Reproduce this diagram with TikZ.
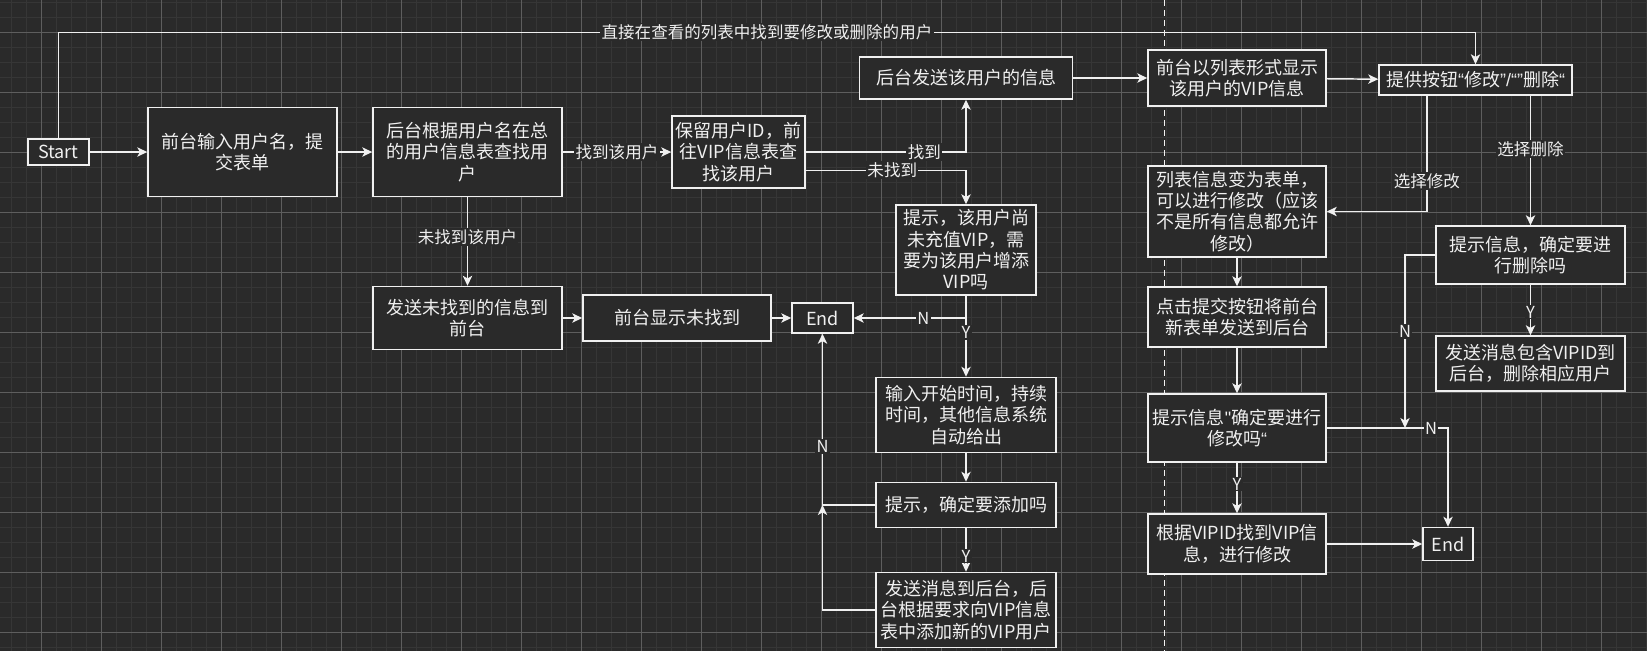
\documentclass[tikz,border=0pt]{standalone}
\usepackage{fontspec}
\setmainfont{Noto Sans CJK SC}
\newfontfamily\latinq{Liberation Sans}
\newcommand\qmark[1]{{\latinq #1}}
\usetikzlibrary{arrows.meta,calc}
\definecolor{bg}{HTML}{2A2A2A}
\definecolor{minorgrid}{HTML}{363636}
\definecolor{majorgrid}{HTML}{5E5E5E}
\definecolor{ink}{HTML}{F0F0F0}
\begin{document}
\begin{tikzpicture}[x=.75pt,y=-.75pt,
  box/.style={draw=ink,line width=1.1pt,fill=bg,text=ink,align=center,inner sep=0pt,
    font=\fontsize{13.5}{16}\selectfont},
  sz/.style 2 args={minimum width=#1*.75pt,minimum height=#2*.75pt},
  lbl/.style={fill=bg,text=ink,inner sep=1pt,font=\fontsize{12.4}{14}\selectfont},
  flow/.style={draw=ink,line width=1.1pt,-{Stealth[length=7.5pt,width=7pt,inset=2pt]}}]
\useasboundingbox (0,0) rectangle (1647,651);
\fill[bg] (0,0) rectangle (1647,651);
\foreach \x in {11,26,...,1646} \draw[minorgrid,line width=.75pt] (\x,0) -- (\x,651);
\foreach \y in {2,17,...,650} \draw[minorgrid,line width=.75pt] (0,\y) -- (1647,\y);
\foreach \x in {41,101,...,1646} \draw[majorgrid,line width=.75pt] (\x,0) -- (\x,651);
\foreach \y in {32,92,...,650} \draw[majorgrid,line width=.75pt] (0,\y) -- (1647,\y);
\draw[ink!80,line width=.75pt,dash pattern=on 4.5pt off 3pt] (1164,0) -- (1164,651);

\node[box,sz={61}{26}] (start) at (58.5,152) {Start};
\node[box,sz={189}{89}] (input) at (242.5,152) {前台输入用户名，提\\交表单};
\node[box,sz={189}{89}] (lookup) at (467.5,152) {后台根据用户名在总\\的用户信息表查找用\\户};
\node[box,sz={133}{72}] (keep) at (738.5,152) {保留用户ID，前\\往VIP信息表查\\找该用户};
\node[box,sz={213}{42}] (send) at (966,78) {后台发送该用户的信息};
\node[box,sz={140}{90}] (ask) at (966,250) {提示，该用户尚\\未充值VIP，需\\要为该用户增添\\VIP吗};
\node[box,sz={61}{30}] (end1) at (822.5,318) {End};
\node[box,sz={189}{63}] (sendnf) at (467.5,318) {发送未找到的信息到\\前台};
\node[box,sz={188}{46}] (shownf) at (677,318) {前台显示未找到};
\node[box,sz={180}{75}] (inputtime) at (966,415) {输入开始时间，持续\\时间，其他信息系统\\自动给出};
\node[box,sz={180}{45}] (confirm) at (966,505) {提示，确定要添加吗};
\node[box,sz={180}{75}] (addvip) at (966,610) {发送消息到后台，后\\台根据要求向VIP信息\\表中添加新的VIP用户};
\node[box,sz={178}{56}] (listshow) at (1237,78) {前台以列表形式显示\\该用户的VIP信息};
\node[box,sz={193}{30}] (buttons) at (1475.5,80) {提供按钮\qmark{“}修改\qmark{”/“”}删除\qmark{“}};
\node[box,sz={178}{91}] (editform) at (1237,211.5) {列表信息变为表单，\\可以进行修改（应该\\不是所有信息都允许\\修改）};
\node[box,sz={189}{58}] (askdel) at (1530.5,255) {提示信息，确定要进\\行删除吗};
\node[box,sz={189}{55}] (sendvipid) at (1530.5,363.5) {发送消息包含VIPID到\\后台，删除相应用户};
\node[box,sz={178}{60}] (submit) at (1237,317) {点击提交按钮将前台\\新表单发送到后台};
\node[box,sz={178}{68}] (askedit) at (1237,428) {提示信息\qmark{"}确定要进行\\修改吗\qmark{“}};
\node[box,sz={178}{60}] (findedit) at (1237,544) {根据VIPID找到VIP信\\息，进行修改};
\node[box,sz={50}{33}] (end2) at (1448,544) {End};
\coordinate (njoin) at (end1.south |- confirm.west);
\coordinate (njoin2) at (1405,428);

\draw[flow] (start) -- (input);
\draw[flow] (input) -- (lookup);
\draw[flow] (lookup) -- node[lbl]{找到该用户} (keep);
\draw[flow] (lookup) -- node[lbl,pos=.45]{未找到该用户} (sendnf);
\draw[flow] (sendnf) -- (shownf);
\draw[flow] (shownf) -- (end1);
\draw[flow] (keep.east) -| node[lbl,pos=.37]{找到} (send.south);
\draw[flow] ($(keep.east)!.5!(keep.south east)$) -| node[lbl,pos=.27]{未找到} (ask.north);
\draw[flow] (ask.south) |- node[lbl,pos=.69]{N} (end1.east);
\draw[flow] (ask) -- node[lbl,pos=.45]{Y} (inputtime);
\draw[flow] (inputtime) -- (confirm);
\draw[flow] (confirm) -- node[lbl,pos=.64]{Y} (addvip);
\draw[flow] (confirm.west) -| node[lbl,pos=.67]{N} (end1.south);
\draw[flow] (addvip.west) -| (njoin);
\draw[flow] (send) -- (listshow);
\draw[flow] (listshow) -- (buttons);
\draw[flow] (start.north) |- node[lbl,pos=.75]{直接在查看的列表中找到要修改或删除的用户} ($(buttons.north)+(0,-32)$) -- (buttons.north);
\draw[flow] ($(buttons.south west)!.25!(buttons.south east)$) |- node[lbl,pos=.37]{选择修改} (editform.east);
\draw[flow] (buttons.south -| askdel.north) -- node[lbl,pos=.41]{选择删除} (askdel.north);
\draw[flow] (askdel) -- node[lbl,pos=.54]{Y} (sendvipid);
\draw[flow] (editform) -- (submit);
\draw[flow] (submit) -- (askedit);
\draw[flow] (askedit) -- node[lbl,pos=.42]{Y} (findedit);
\draw[flow] (findedit) -- (end2);
\draw[flow] (askedit.east) -| node[lbl,pos=.43]{N} (end2.north);
\draw[flow] (askdel.west) -| node[lbl,pos=.72]{N} (njoin2);
\end{tikzpicture}
\end{document}
